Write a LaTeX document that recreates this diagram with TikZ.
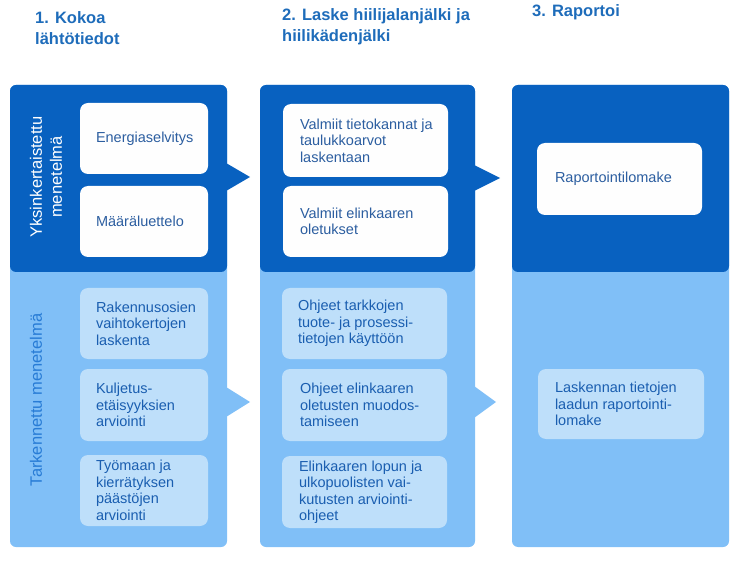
\documentclass[tikz,border=0pt]{standalone}
\usepackage{fontspec}
\setmainfont{Liberation Sans}
\usepackage{tikz}
\usetikzlibrary{positioning}

\begin{document}
\begin{tikzpicture}[x=1pt,y=1pt,yscale=-1,
  darkfill/.style={fill={rgb, 255:red, 8; green, 97; blue, 192}},
  lightfill/.style={fill={rgb, 255:red, 128; green, 191; blue, 247}},
  wbox/.style={fill={rgb, 255:red, 254; green, 254; blue, 254}, rounded corners=8pt, inner sep=0pt},
  lbox/.style={fill={rgb, 255:red, 190; green, 223; blue, 250}, rounded corners=8pt, inner sep=0pt},
  btext/.style={inner sep=0pt, align=left, font=\fontsize{14.5}{16.5}\selectfont},
  wtext/.style={btext, text={rgb, 255:red, 44; green, 94; blue, 160}},
  ltext/.style={btext, text={rgb, 255:red, 26; green, 94; blue, 176}},
  title/.style={anchor=north west, inner sep=0pt, align=left, font=\fontsize{16.5}{21}\selectfont\bfseries, text={rgb, 255:red, 30; green, 108; blue, 186}}
]
\useasboundingbox (0,0) rectangle (736,561);

%Shape: Rectangle (columns, light part)
\fill[lightfill, rounded corners=6pt] (10,85) rectangle (227,547);
\fill[lightfill, rounded corners=6pt] (260,85) rectangle (475,547);
\fill[lightfill, rounded corners=6pt] (512,85) rectangle (729,547);
%Shape: Rectangle (columns, dark part)
\fill[darkfill, rounded corners=6pt] (10,85) rectangle (227,272);
\fill[darkfill, rounded corners=6pt] (260,85) rectangle (475,272);
\fill[darkfill, rounded corners=6pt] (512,85) rectangle (729,272);

%Shape: Triangle
\fill[darkfill] (226,163) -- (250,177) -- (226,191) -- cycle;
\fill[darkfill] (474,165) -- (500,178) -- (474,191) -- cycle;
\fill[lightfill] (226,387) -- (250,402) -- (226,417) -- cycle;
\fill[lightfill] (474,386) -- (496,402) -- (474,418) -- cycle;

% Text Node
\node[title] (t1) at (35,11) {1. Kokoa\\lähtötiedot};
\node[title] (t2) at (282,8) {2. Laske hiilijalanjälki ja\\hiilikädenjälki};
\node[title] (t3) at (532,4) {3. Raportoi};

% Text Node
\node[rotate=90, align=center, inner sep=0pt, text=white, font=\fontsize{16.5}{20}\selectfont] (yks) at (46,177) {Yksinkertaistettu\\menetelmä};
\node[rotate=90, inner sep=0pt, text={rgb, 255:red, 40; green, 124; blue, 214}, font=\fontsize{16.5}{20}\selectfont] (tark) at (36,400) {Tarkennettu menetelmä};

%Shape: Rounded Rect (column 1)
\node[wbox, minimum width=128pt, minimum height=71pt] (energia) at (144,138.5) {};
\node[wtext, right=16pt of energia.west] (energiat) {Energiaselvitys};
\node[wbox, minimum width=128pt, minimum height=71pt] (maara) at (144,221.5) {};
\node[wtext, right=16pt of maara.west] (maarat) {Määräluettelo};
\node[lbox, minimum width=128pt, minimum height=71pt] (rak) at (144,323.5) {};
\node[ltext, right=16pt of rak.west] (rakt) {Rakennusosien\\vaihtokertojen\\laskenta};
\node[lbox, minimum width=128pt, minimum height=72pt] (kul) at (144,405) {};
\node[ltext, right=16pt of kul.west] (kult) {Kuljetus-\\etäisyyksien\\arviointi};
\node[lbox, minimum width=128pt, minimum height=71pt] (tyo) at (144,490.5) {};
\node[ltext, right=16pt of tyo.west] (tyot) {Työmaan ja\\kierrätyksen\\päästöjen\\arviointi};

%Shape: Rounded Rect (column 2)
\node[wbox, minimum width=165pt, minimum height=73pt] (tieto) at (365.5,140.5) {};
\node[wtext, right=17pt of tieto.west] (tietot) {Valmiit tietokannat ja\\taulukkoarvot\\laskentaan};
\node[wbox, minimum width=165pt, minimum height=71pt] (elin) at (365.5,221.5) {};
\node[wtext, right=17pt of elin.west] (elint) {Valmiit elinkaaren\\oletukset};
\node[lbox, minimum width=165pt, minimum height=71pt] (ohj) at (364.5,323.5) {};
\node[ltext, right=16pt of ohj.west] (ohjt) {Ohjeet tarkkojen\\tuote- ja prosessi-\\tietojen käyttöön};
\node[lbox, minimum width=165pt, minimum height=72pt] (ohje) at (364.5,405) {};
\node[ltext, right=18pt of ohje.west] (ohjet) {Ohjeet elinkaaren\\oletusten muodos-\\tamiseen};
\node[lbox, minimum width=165pt, minimum height=72pt] (lop) at (364.5,492) {};
\node[ltext, right=17pt of lop.west] (lopt) {Elinkaaren lopun ja\\ulkopuolisten vai-\\kutusten arviointi-\\ohjeet};

%Shape: Rounded Rect (column 3)
\node[wbox, minimum width=165pt, minimum height=72pt] (rap) at (619.5,179) {};
\node[wtext, right=18pt of rap.west] (rapt) {Raportointilomake};
\node[lbox, minimum width=166pt, minimum height=70pt] (laa) at (621,404) {};
\node[ltext, right=17pt of laa.west] (laat) {Laskennan tietojen\\laadun raportointi-\\lomake};

\end{tikzpicture}
\end{document}
